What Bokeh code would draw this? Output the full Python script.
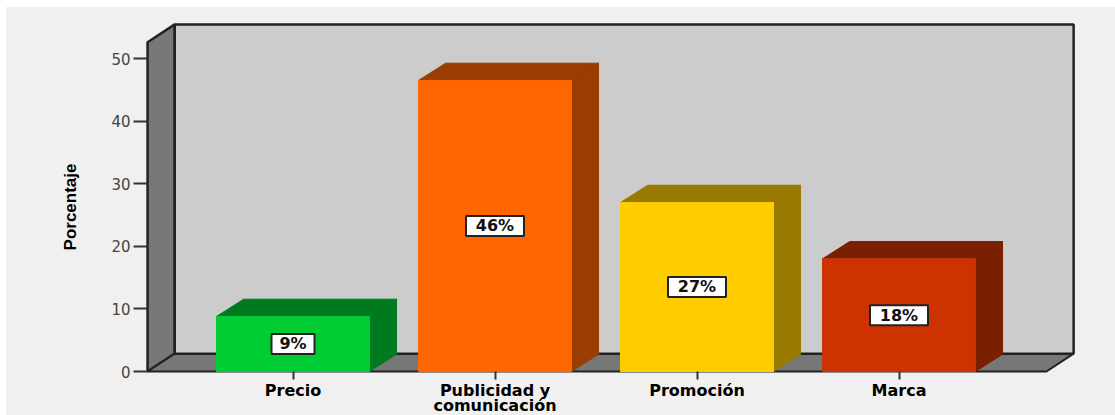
from bokeh.plotting import figure
from bokeh.models import Range1d, FixedTicker, Label
from bokeh.core.properties import value
from bokeh.embed import file_html
from bokeh.resources import INLINE

categories = ["Precio", "Publicidad y\ncomunicación", "Promoción", "Marca"]
values = [8.8, 46.5, 27.0, 18.0]
labels = ["9%", "46%", "27%", "18%"]
front_colors = ["#00cc33", "#ff6600", "#ffcc00", "#cc3300"]
side_colors = ["#007a1f", "#993d00", "#997a00", "#7a1f00"]
y_ticks = [0, 10, 20, 30, 40, 50]
y_axis_name = "Porcentaje"

BAR_W = 0.757
BAR_DX = 0.134   # depth of the 3D box, in category units
BAR_DY = 2.75    # depth of the 3D box, in percentage units
DX = 0.1345
DY = 2.85
WALL_L = -0.72
WALL_R = 3.73
WALL_T = 52.6
BG = "#f0f0f0"
EDGE = "#222222"
PX_X = 202.0    # pixels per category
PX_Y = 6.26     # pixels per percentage point
CX0 = 292.5     # page x of the first category
W, H = 1115, 415

p = figure(width=W, height=H, output_backend="svg", toolbar_location=None,
           x_range=Range1d(-CX0 / PX_X, (W - CX0) / PX_X),
           y_range=Range1d((371 - H) / PX_Y, 371 / PX_Y),
           min_border=0,
           background_fill_color=None, border_fill_color=None, outline_line_color=None)
p.grid.visible = False

# walls and floor
p.patch([WALL_L, WALL_L + DX, WALL_L + DX, WALL_L], [WALL_T, WALL_T + DY, DY, 0],
        fill_color="#777777", line_color=EDGE, line_width=2.5)
p.patch([WALL_L, WALL_L + DX, WALL_R + DX, WALL_R], [0, DY, DY, 0],
        fill_color="#777777", line_color=EDGE, line_width=2)
p.patch([WALL_L + DX, WALL_R + DX, WALL_R + DX, WALL_L + DX], [DY, DY, WALL_T + DY, WALL_T + DY],
        fill_color="#cccccc", line_color=EDGE, line_width=2.5)

# 3D bars
xs = list(range(len(values)))
left = [x - BAR_W / 2 for x in xs]
right = [x + BAR_W / 2 for x in xs]
p.patches([[r, r + BAR_DX, r + BAR_DX, r] for r in right],
          [[0, BAR_DY, v + BAR_DY, v] for v in values],
          fill_color=side_colors, line_color=side_colors, line_width=1)
p.patches([[l, l + BAR_DX, r + BAR_DX, r] for l, r in zip(left, right)],
          [[v, v + BAR_DY, v + BAR_DY, v] for v in values],
          fill_color=side_colors, line_color=side_colors, line_width=1)
p.vbar(x=xs, top=values, bottom=0, width=BAR_W, fill_color=front_colors,
       line_color=front_colors, line_width=1)

# value labels
mids = [v / 2 for v in values]
p.rect(x=xs, y=mids, width=[43, 58, 58, 58], height=20, width_units="screen", height_units="screen",
       fill_color="white", line_color="#222222", line_width=2)
p.text(x=xs, y=mids, text=labels, text_align="center", text_baseline="middle",
       text_font=value("DejaVu Sans"), text_font_style="bold", text_font_size="16px",
       text_color="#111111")

# axes
ya = p.yaxis[0]
ya.fixed_location = WALL_L
ya.ticker = FixedTicker(ticks=y_ticks)
ya.axis_line_color = None
ya.major_tick_line_color = "#333333"
ya.major_tick_line_width = 2
ya.major_tick_in = 0
ya.major_tick_out = 14
ya.minor_tick_line_color = None
ya.major_label_standoff = 3
ya.major_label_text_font = "DejaVu Sans"
ya.major_label_text_font_size = "15px"
ya.major_label_text_color = "#444444"

xa = p.xaxis[0]
xa.fixed_location = 0
xa.ticker = FixedTicker(ticks=xs)
xa.major_label_overrides = {i: c for i, c in enumerate(categories)}
xa.axis_line_color = None
xa.major_tick_line_color = "#333333"
xa.major_tick_line_width = 2
xa.major_tick_in = 0
xa.major_tick_out = 8
xa.minor_tick_line_color = None
xa.major_label_standoff = 1
xa.major_label_text_font = "DejaVu Sans"
xa.major_label_text_font_style = "bold"
xa.major_label_text_font_size = "16px"
xa.major_label_text_line_height = 0.8
xa.major_label_text_color = "#000000"

p.add_layout(Label(x=(70 - CX0) / PX_X, y=(371 - 206.5) / PX_Y, text=y_axis_name, angle=90, angle_units="deg",
                   text_align="center", text_baseline="middle",
                   text_font="Liberation Sans", text_font_style="bold", text_font_size="17px",
                   text_color="#000000"))

html = file_html(p, INLINE)
html = html.replace("</head>", "<style>html{background:linear-gradient(%s,%s) no-repeat 6px 7px / 100%% 100%%,#fff}</style></head>" % (BG, BG))
open("out.html", "w").write(html)
